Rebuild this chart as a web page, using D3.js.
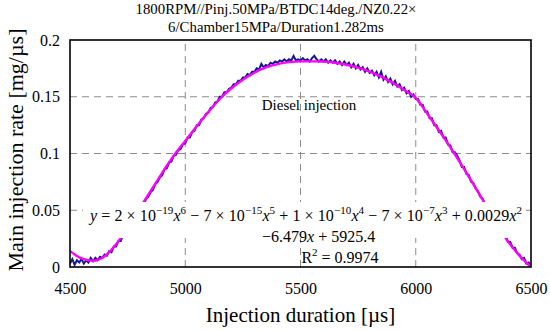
<!DOCTYPE html>
<html>
<head>
<meta charset="utf-8">
<script src="https://cdn.jsdelivr.net/npm/d3@7"></script>
<style>
  body { margin: 0; background: #fff; }
  text { font-family: "Liberation Serif", "Times New Roman", serif; fill: #000; }
</style>
</head>
<body>
<div id="chart"></div>
<script>
var width = 550;
var height = 331;
var margin = {top: 40, right: 19, bottom: 64, left: 70};

// measured injection rate, sampled every 10 us from 4500 us
var sampleStart = 4500;
var sampleStep = 10;
var measuredRate = [
  0.003, 0.007, 0.002, 0.006, 0.004, 0.007, 0.003, 0.006, 0.004, 0.008,
  0.005, 0.008, 0.006, 0.009, 0.008, 0.011, 0.010, 0.014, 0.013, 0.018,
  0.018, 0.023, 0.023, 0.028, 0.030, 0.034, 0.036, 0.041, 0.043, 0.047,
  0.049, 0.055, 0.055, 0.060, 0.062, 0.066, 0.068, 0.073, 0.075, 0.079,
  0.081, 0.086, 0.087, 0.092, 0.093, 0.098, 0.099, 0.103, 0.104, 0.108,
  0.109, 0.114, 0.114, 0.119, 0.120, 0.125, 0.125, 0.130, 0.131, 0.135,
  0.136, 0.140, 0.141, 0.145, 0.146, 0.150, 0.150, 0.154, 0.154, 0.157,
  0.158, 0.161, 0.161, 0.164, 0.164, 0.167, 0.167, 0.170, 0.169, 0.172,
  0.172, 0.175, 0.174, 0.179, 0.176, 0.178, 0.177, 0.180, 0.179, 0.181,
  0.180, 0.182, 0.181, 0.183, 0.181, 0.183, 0.182, 0.186, 0.182, 0.183,
  0.182, 0.184, 0.182, 0.183, 0.181, 0.184, 0.186, 0.183, 0.181, 0.183,
  0.181, 0.183, 0.180, 0.182, 0.180, 0.182, 0.179, 0.181, 0.178, 0.181,
  0.178, 0.180, 0.176, 0.179, 0.175, 0.178, 0.174, 0.176, 0.172, 0.175,
  0.171, 0.173, 0.169, 0.172, 0.167, 0.172, 0.165, 0.168, 0.163, 0.166,
  0.161, 0.164, 0.159, 0.161, 0.156, 0.158, 0.153, 0.155, 0.150, 0.152,
  0.148, 0.148, 0.143, 0.143, 0.137, 0.137, 0.131, 0.131, 0.125, 0.125,
  0.119, 0.120, 0.114, 0.114, 0.108, 0.107, 0.101, 0.101, 0.098, 0.094,
  0.088, 0.088, 0.082, 0.081, 0.075, 0.074, 0.069, 0.067, 0.062, 0.060,
  0.055, 0.054, 0.048, 0.047, 0.041, 0.040, 0.034, 0.034, 0.028, 0.028,
  0.022, 0.022, 0.017, 0.017, 0.012, 0.011, 0.007, 0.008, 0.003, 0.004,
  0.000
];

// 6th order polynomial trendline
var fitTime = [4500, 4550, 4600, 4650, 4700, 4750, 4800, 4850, 4900, 4950,
               5000, 5050, 5100, 5150, 5200, 5250, 5300, 5350, 5400, 5450,
               5500, 5550, 5600, 5650, 5700, 5750, 5800, 5850, 5900, 5950,
               6000, 6050, 6100, 6150, 6200, 6250, 6300, 6350, 6400, 6450, 6500];
var fitRate = [0.014, 0.0075, 0.0055, 0.0095, 0.020, 0.035, 0.051, 0.067, 0.083, 0.098,
               0.111, 0.124, 0.1365, 0.148, 0.1575, 0.165, 0.1712, 0.1758, 0.1788, 0.1805,
               0.1812, 0.1812, 0.181, 0.180, 0.1782, 0.1757, 0.1722, 0.1677, 0.1622, 0.156,
               0.149, 0.135, 0.1205, 0.1055, 0.0895, 0.073, 0.056, 0.039, 0.0225, 0.010, 0.000];

var xTicks = [4500, 5000, 5500, 6000, 6500];
var yTicks = [0, 0.05, 0.1, 0.15, 0.2];
var titleLines = ["1800RPM//Pinj.50MPa/BTDC14deg./NZ0.22\u00d7", "6/Chamber15MPa/Duration1.282ms"];

var svg = d3.select("#chart").append("svg")
  .attr("width", width)
  .attr("height", height);

var x = d3.scaleLinear().domain([4500, 6500]).range([margin.left, width - margin.right]);
var y = d3.scaleLinear().domain([0, 0.2]).range([height - margin.bottom, margin.top]);

// grid
svg.append("g").selectAll("line")
  .data(xTicks.slice(1, -1))
  .enter().append("line")
  .attr("x1", d => x(d)).attr("x2", d => x(d))
  .attr("y1", y(0)).attr("y2", y(0.2))
  .attr("stroke", "#8c8c8c").attr("stroke-width", 1).attr("stroke-dasharray", "7,5");
svg.append("g").selectAll("line")
  .data(yTicks.slice(1, -1))
  .enter().append("line")
  .attr("x1", x(4500)).attr("x2", x(6500))
  .attr("y1", d => y(d)).attr("y2", d => y(d))
  .attr("stroke", "#8c8c8c").attr("stroke-width", 1).attr("stroke-dasharray", "7,5");

svg.append("clipPath").attr("id", "plot")
  .append("rect")
  .attr("x", x(4500)).attr("y", y(0.2))
  .attr("width", x(6500) - x(4500)).attr("height", y(0) - y(0.2));

var measured = measuredRate.map((v, i) => [sampleStart + i * sampleStep, v]);
var fit = fitTime.map((t, i) => [t, fitRate[i]]);

var line = d3.line().x(d => x(d[0])).y(d => y(d[1]));

svg.append("path")
  .datum(measured)
  .attr("clip-path", "url(#plot)")
  .attr("fill", "none")
  .attr("stroke", "#161690")
  .attr("stroke-width", 2)
  .attr("d", line);

svg.append("path")
  .datum(fit)
  .attr("clip-path", "url(#plot)")
  .attr("fill", "none")
  .attr("stroke", "#ff00ff")
  .attr("stroke-width", 2.4)
  .attr("d", line.curve(d3.curveMonotoneX));

// axes
var xAxis = d3.axisBottom(x).tickValues(xTicks).tickSize(0).tickPadding(16).tickFormat(d => d);
var yAxis = d3.axisLeft(y).tickValues(yTicks).tickSize(0).tickPadding(10).tickFormat(d => d);

var gx = svg.append("g")
  .attr("transform", "translate(0," + y(0) + ")")
  .call(xAxis);
var gy = svg.append("g")
  .attr("transform", "translate(" + x(4500) + ",0)")
  .call(yAxis);
[gx, gy].forEach(g => {
  g.select(".domain").remove();
  g.selectAll("text").style("font-family", "Liberation Serif").style("font-size", "16px");
});

svg.append("rect")
  .attr("x", x(4500)).attr("y", y(0.2))
  .attr("width", x(6500) - x(4500)).attr("height", y(0) - y(0.2))
  .attr("fill", "none").attr("stroke", "#000").attr("stroke-width", 1.6);

// equation label
svg.append("rect")
  .attr("x", 83).attr("y", 202)
  .attr("width", 443).attr("height", 36)
  .attr("fill", "#fff");

function eqLine(parts, px, py, anchor) {
  var t = svg.append("text")
    .attr("x", px).attr("y", py)
    .attr("text-anchor", anchor)
    .style("font-size", "16px");
  var up = false;
  parts.forEach(p => {
    var s = t.append("tspan").text(p[0]);
    if (p[1] == "i") s.style("font-style", "italic");
    if (p[1] == "s") {
      s.attr("dy", -7).style("font-size", "11px");
      up = true;
    } else if (up) {
      s.attr("dy", 7);
      up = false;
    }
  });
  return t;
}

eqLine([["y", "i"], [" = 2 \u00d7 10", "n"], ["\u221219", "s"], ["x", "i"], ["6", "s"],
        [" \u2212 7 \u00d7 10", "n"], ["\u221215", "s"], ["x", "i"], ["5", "s"],
        [" + 1 \u00d7 10", "n"], ["\u221210", "s"], ["x", "i"], ["4", "s"],
        [" \u2212 7 \u00d7 10", "n"], ["\u22127", "s"], ["x", "i"], ["3", "s"],
        [" + 0.0029", "n"], ["x", "i"], ["2", "s"]], 90, 221, "start")
  .attr("textLength", 432).attr("lengthAdjust", "spacing");
eqLine([["\u22126.479", "n"], ["x", "i"], [" + 5925.4", "n"]], 262, 242, "start");
eqLine([["R", "n"], ["2", "s"], [" = 0.9974", "n"]], 340, 263, "middle");

svg.append("text")
  .attr("x", 309).attr("y", 110)
  .attr("text-anchor", "middle")
  .style("font-size", "15px")
  .text("Diesel injection");

// titles
svg.selectAll(".title")
  .data(titleLines)
  .enter().append("text")
  .attr("class", "title")
  .attr("x", 276)
  .attr("y", (d, i) => 14 + i * 18)
  .attr("text-anchor", "middle")
  .style("font-size", "14.8px")
  .text(d => d);

svg.append("text")
  .attr("x", (x(4500) + x(6500)) / 2)
  .attr("y", 322)
  .attr("text-anchor", "middle")
  .style("font-size", "21px")
  .text("Injection duration [\u00b5s]");

svg.append("text")
  .attr("transform", "translate(23,150) rotate(-90)")
  .attr("text-anchor", "middle")
  .style("font-size", "22px")
  .text("Main injection rate [mg/\u00b5s]");
</script>
</body>
</html>
